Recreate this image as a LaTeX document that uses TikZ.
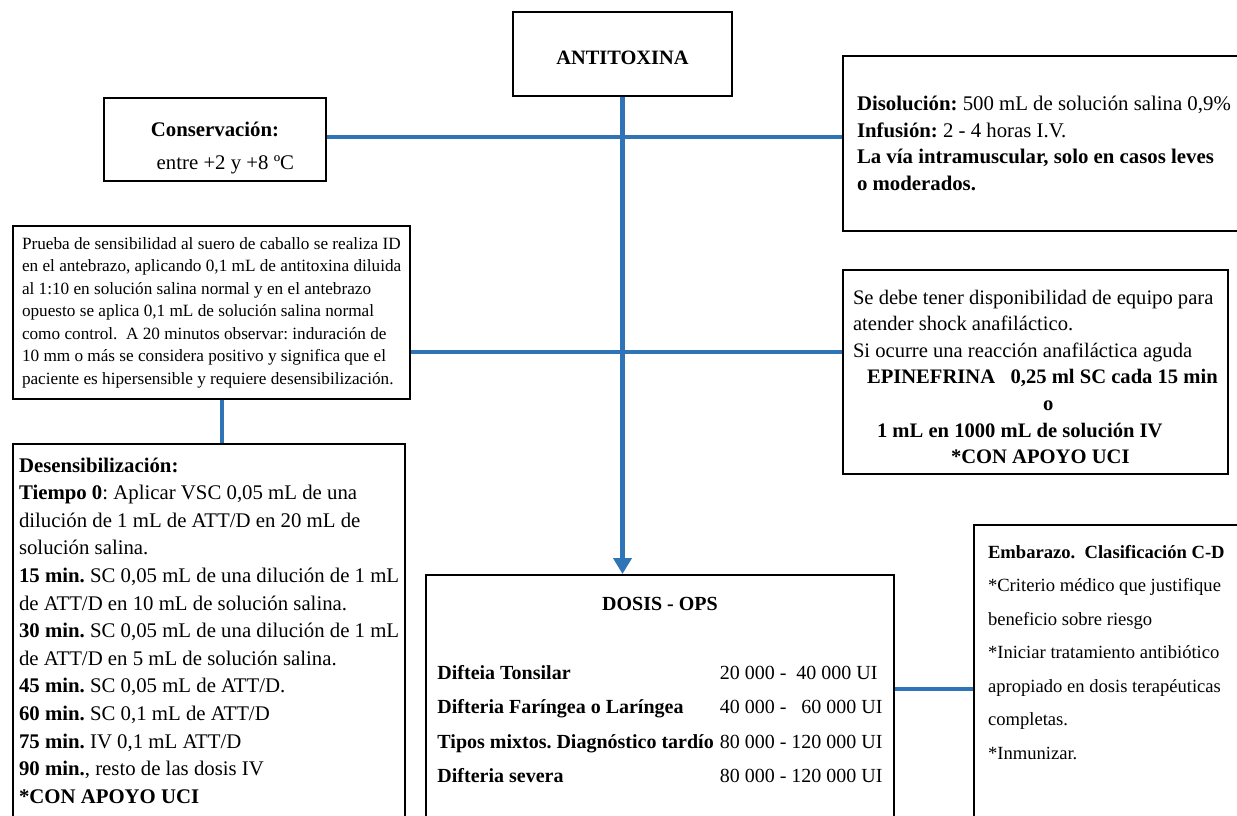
\documentclass[tikz,border=0pt]{standalone}
\usepackage{fontspec}
\setmainfont{Liberation Serif}
\usetikzlibrary{arrows.meta}
\definecolor{linkblue}{RGB}{46,116,182}
\frenchspacing

\begin{document}
\begin{tikzpicture}[x=0.5pt,y=-0.5pt,
    box/.style={draw=black,line width=1pt,fill=white,align=left,inner sep=5pt},
    link/.style={draw=linkblue,line width=2.2pt}]
  \useasboundingbox (0,0) rectangle (1237,815);
  \clip (0,0) rectangle (1237,815);

  \node[box,align=center,minimum width=109.5pt,minimum height=42pt,
        font=\bfseries\fontsize{10.2}{12}\selectfont] (anti) at (622.5,54)
        {\rule{0pt}{11pt}ANTITOXINA};
  \node[box,align=center,inner ysep=2pt,minimum width=111pt,minimum height=41.5pt,
        font=\fontsize{10.4}{16.5}\selectfont] (cons) at (215,139.5)
        {\rule{0pt}{16pt}\textbf{Conservación:}\\ \hspace*{1em}entre +2 y +8 ºC};
  \node[box,anchor=north west,inner xsep=7pt,minimum height=87.5pt,
        font=\fontsize{10.4}{13.3}\selectfont] (disol) at (842,55)
        {\textbf{Disolución:} 500 mL de solución salina 0,9\%\\
         \textbf{Infusión:} 2 - 4 horas I.V.\\
         \textbf{La vía intramuscular, solo en casos leves}\\
         \textbf{o moderados.}};
  \node[box,anchor=north west,inner xsep=4.5pt,minimum height=86.5pt,
        font=\fontsize{8.6}{11.25}\selectfont] (prueba) at (12,225)
        {Prueba de sensibilidad al suero de caballo se realiza ID\\
         en el antebrazo, aplicando 0,1 mL de antitoxina diluida\\
         al 1:10 en solución salina normal y en el antebrazo\\
         opuesto se aplica 0,1 mL de solución salina normal\\
         como control.~ A 20 minutos observar: induración de\\
         10 mm o más se considera positivo y significa que el\\
         paciente es hipersensible y requiere desensibilización.};
  \node[box,anchor=north west,minimum height=100pt,
        font=\fontsize{10.3}{13.3}\selectfont] (sedebe) at (842,269)
        {\rule{0pt}{12pt}Se debe tener disponibilidad de equipo para\\
         atender shock anafiláctico.\\
         Si ocurre una reacción anafiláctica aguda\\
         \hspace*{7pt}\textbf{EPINEFRINA~~~0,25 ml SC cada 15 min}\\
         \hspace*{95pt}\textbf{o}\\
         \hspace*{12pt}\textbf{1 mL en 1000 mL de solución IV}\\
         \hspace*{49pt}\textbf{*CON APOYO UCI}};
  \node[box,anchor=north west,inner xsep=3pt,minimum height=186.5pt,
        font=\fontsize{10.4}{13.8}\selectfont] (desens) at (12,443)
        {\textbf{Desensibilización:}\\
         \textbf{Tiempo 0}: Aplicar VSC 0,05 mL de una\\
         dilución de 1 mL de ATT/D en 20 mL de\\
         solución salina.\\
         \textbf{15 min.} SC 0,05 mL de una dilución de 1 mL\\
         de ATT/D en 10 mL de solución salina.\\
         \textbf{30 min.} SC 0,05 mL de una dilución de 1 mL\\
         de ATT/D en 5 mL de solución salina.\\
         \textbf{45 min.} SC 0,05 mL de ATT/D.\\
         \textbf{60 min.} SC 0,1 mL de ATT/D\\
         \textbf{75 min.} IV 0,1 mL ATT/D\\
         \textbf{90 min.}, resto de las dosis IV\\
         \textbf{*CON APOYO UCI}};
  \node[box,anchor=north west,minimum width=234pt,inner ysep=5.5pt,text depth=150pt,
        font=\fontsize{10}{17.25}\selectfont] (dosis) at (425,574)
        {\begin{tabular}{@{}l@{\hspace{3pt}}l@{}}
           \multicolumn{2}{c}{\textbf{DOSIS - OPS}}\\
           & \\
           \textbf{Difteia Tonsilar} & 20~000 -~~40~000 UI\\
           \textbf{Difteria Faríngea o Laríngea} & 40~000 -~~~60~000 UI\\
           \textbf{Tipos mixtos. Diagnóstico tardío} & 80~000 - 120~000 UI\\
           \textbf{Difteria severa} & 80~000 - 120~000 UI
         \end{tabular}};
  \node[box,anchor=north west,minimum width=131.5pt,inner xsep=7pt,inner ysep=10pt,
        text depth=150pt,font=\fontsize{9.3}{16.75}\selectfont] (embarazo) at (973,524)
        {\textbf{Embarazo.~ Clasificación C-D}\\
         *Criterio médico que justifique\\
         beneficio sobre riesgo\\
         *Iniciar tratamiento antibiótico\\
         apropiado en dosis terapéuticas\\
         completas.\\
         *Inmunizar.};

  \coordinate (j1) at (623,137);
  \coordinate (j2) at (623,352);
  \coordinate (j3) at (222,420);
  \coordinate (j4) at (930,689);

  \draw[link] (cons.east |- j1) -- (disol.west |- j1);
  \draw[link] (prueba.east |- j2) -- (sedebe.west |- j2);
  \draw[link] (prueba.south -| j3) -- (desens.north -| j3);
  \draw[link] (dosis.east |- j4) -- (embarazo.west |- j4);
  \draw[link,-{Triangle[width=9pt,length=8pt]}] (anti.south) -- (anti.south |- dosis.north);
\end{tikzpicture}
\end{document}
